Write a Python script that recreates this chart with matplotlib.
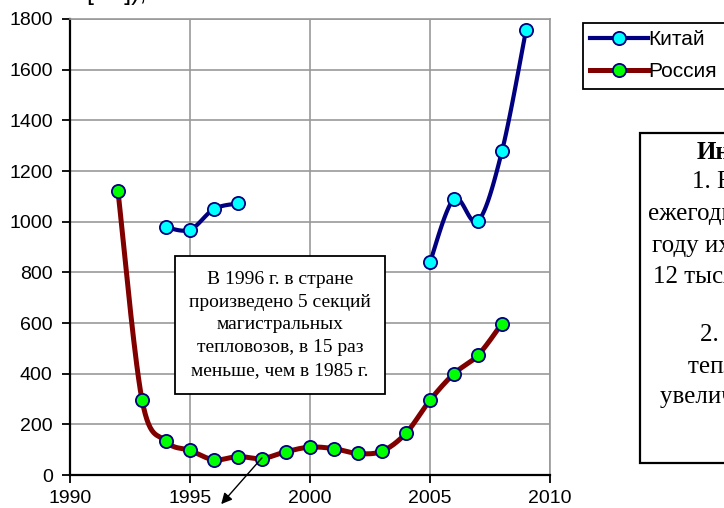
import numpy as np
import matplotlib
matplotlib.use("Agg")
import matplotlib.pyplot as plt
from matplotlib.lines import Line2D
from matplotlib.patches import Rectangle

# ---------------- data ----------------
russia_years = [1992, 1993, 1994, 1995, 1996, 1997, 1998, 1999, 2000, 2001,
                2002, 2003, 2004, 2005, 2006, 2007, 2008]
russia_vals = [1120, 297, 133, 97, 60, 73, 65, 92, 110, 104,
               85, 94, 165, 295, 400, 473, 598]

china_years_a = [1994, 1995, 1996, 1997]
china_vals_a = [978, 968, 1050, 1072]
china_years_b = [2005, 2006, 2007, 2008, 2009]
china_vals_b = [840, 1090, 1002, 1279, 1755]

xticks = [1990, 1995, 2000, 2005, 2010]
yticks = list(range(0, 1801, 200))

label_china = "Китай"
label_russia = "Россия"
note_text = ("В 1996 г. в стране\nпроизведено 5 секций\nмагистральных\n"
             "тепловозов, в 15 раз\nменьше, чем в 1985 г.")
info_title = "Информация"
info_lines = ["1. В СССР", "ежегодно выпускалось", "году их выпуск превысил",
              "12 тысяч секций", "2. Выпуск", "тепловозов в Китае",
              "увеличился в 2 раза"]


def smooth(xs, ys, n=30):
    """Catmull-Rom style Bezier smoothing through the given points."""
    P = np.column_stack([xs, ys]).astype(float)
    if len(P) < 3:
        return P[:, 0], P[:, 1]
    ext = np.vstack([P[0], P, P[-1]])
    t = np.linspace(0, 1, n)[:, None]
    out = []
    for i in range(1, len(ext) - 2):
        p0, p1, p2, p3 = ext[i - 1], ext[i], ext[i + 1], ext[i + 2]
        c1 = p1 + (p2 - p0) / 6.0
        c2 = p2 - (p3 - p1) / 6.0
        seg = ((1 - t) ** 3) * p1 + 3 * ((1 - t) ** 2) * t * c1 + 3 * (1 - t) * t ** 2 * c2 + t ** 3 * p2
        out.append(seg if i == 1 else seg[1:])
    out = np.vstack(out)
    return out[:, 0], out[:, 1]


W, H = 724, 508
fig = plt.figure(figsize=(W / 100, H / 100), dpi=100)
ax = fig.add_axes([70 / W, 33 / H, 480 / W, 456 / H])

sans = ["Liberation Sans", "DejaVu Sans"]
serif = ["Liberation Serif", "DejaVu Serif"]

navy = "#000080"
maroon = "#800000"
gridc = "#999999"

# lines
rx, ry = smooth(russia_years, russia_vals)
ax.plot(rx, ry, color=maroon, lw=3.6, solid_capstyle="round", zorder=3)
ax.plot(russia_years, russia_vals, ls="none", marker="o", ms=9.5, mfc="#00ff00",
        mec=navy, mew=1.3, zorder=4, clip_on=False)

for yrs, vals in [(china_years_a, china_vals_a), (china_years_b, china_vals_b)]:
    cx, cy = smooth(yrs, vals)
    ax.plot(cx, cy, color=navy, lw=3.0, solid_capstyle="round", zorder=3)
    ax.plot(yrs, vals, ls="none", marker="o", ms=9.5, mfc="#00ffff",
            mec=navy, mew=1.3, zorder=4, clip_on=False)

ax.set_xlim(1990, 2010)
ax.set_ylim(0, 1800)
ax.set_xticks(xticks)
ax.set_yticks(yticks)
ax.grid(True, color=gridc, lw=1.2)
ax.set_axisbelow(True)
for s in ["top", "right"]:
    ax.spines[s].set_color(gridc)
    ax.spines[s].set_linewidth(1.2)
for s in ["left", "bottom"]:
    ax.spines[s].set_color("black")
    ax.spines[s].set_linewidth(1.6)
ax.tick_params(direction="out", length=5.5, width=1.3, colors="black", labelsize=14)
ax.tick_params(axis="y", pad=7)
ax.tick_params(axis="x", pad=5)
for lab in ax.get_xticklabels() + ax.get_yticklabels():
    lab.set_fontfamily(sans)

# annotation box
ax.text((280 - 70) / 480, 0.329, note_text, transform=ax.transAxes, ha="center", va="center",
        multialignment="center", fontsize=14, family=serif, linespacing=1.45, zorder=6,
        bbox=dict(boxstyle="square,pad=0.75", fc="white", ec="black", lw=1.3))

ax.annotate("", xy=(1996.3, -115), xytext=(1998.0, 68),
            arrowprops=dict(arrowstyle="-|>", color="black", lw=1.0, mutation_scale=16,
                            shrinkA=0, shrinkB=0),
            annotation_clip=False, zorder=7)

# legend
handles = [
    Line2D([], [], color=navy, lw=3.0, marker="o", ms=9.5, mfc="#00ffff", mec=navy, mew=1.3),
    Line2D([], [], color=maroon, lw=3.6, marker="o", ms=9.5, mfc="#00ff00", mec=navy, mew=1.3),
]
leg = fig.legend(handles, [label_china, label_russia], loc="upper left",
                 bbox_to_anchor=(583 / W, 1 - 23 / H), bbox_transform=fig.transFigure,
                 borderaxespad=0, frameon=True, fancybox=False, framealpha=1,
                 edgecolor="black", handlelength=2.75, handletextpad=0.05,
                 borderpad=0.35, labelspacing=0.62, prop={"family": sans, "size": 15})
leg.get_frame().set_linewidth(1.3)

# info box on the right (partially outside the figure)
fig.patches.append(Rectangle((640 / W, 1 - 463 / H), 0.3, (463 - 133) / H,
                             transform=fig.transFigure, fc="white", ec="black", lw=1.6))
fig.text(697 / W, 1 - 152 / H, info_title, ha="left", va="center", fontsize=18,
         family=serif, weight="bold")
line_x = [692, 648, 652, 653, 700, 688, 660]
line_y = [182, 214, 246, 277, 335, 367, 397]
for txt, lx, ly in zip(info_lines, line_x, line_y):
    fig.text(lx / W, 1 - ly / H, txt, ha="left", va="center", fontsize=18, family=serif)

# clipped axis title at top
fig.text(86 / W, 1.0, "[шт]),", ha="left", va="baseline", fontsize=18, family=sans)

fig.savefig("out.png", dpi=100)
